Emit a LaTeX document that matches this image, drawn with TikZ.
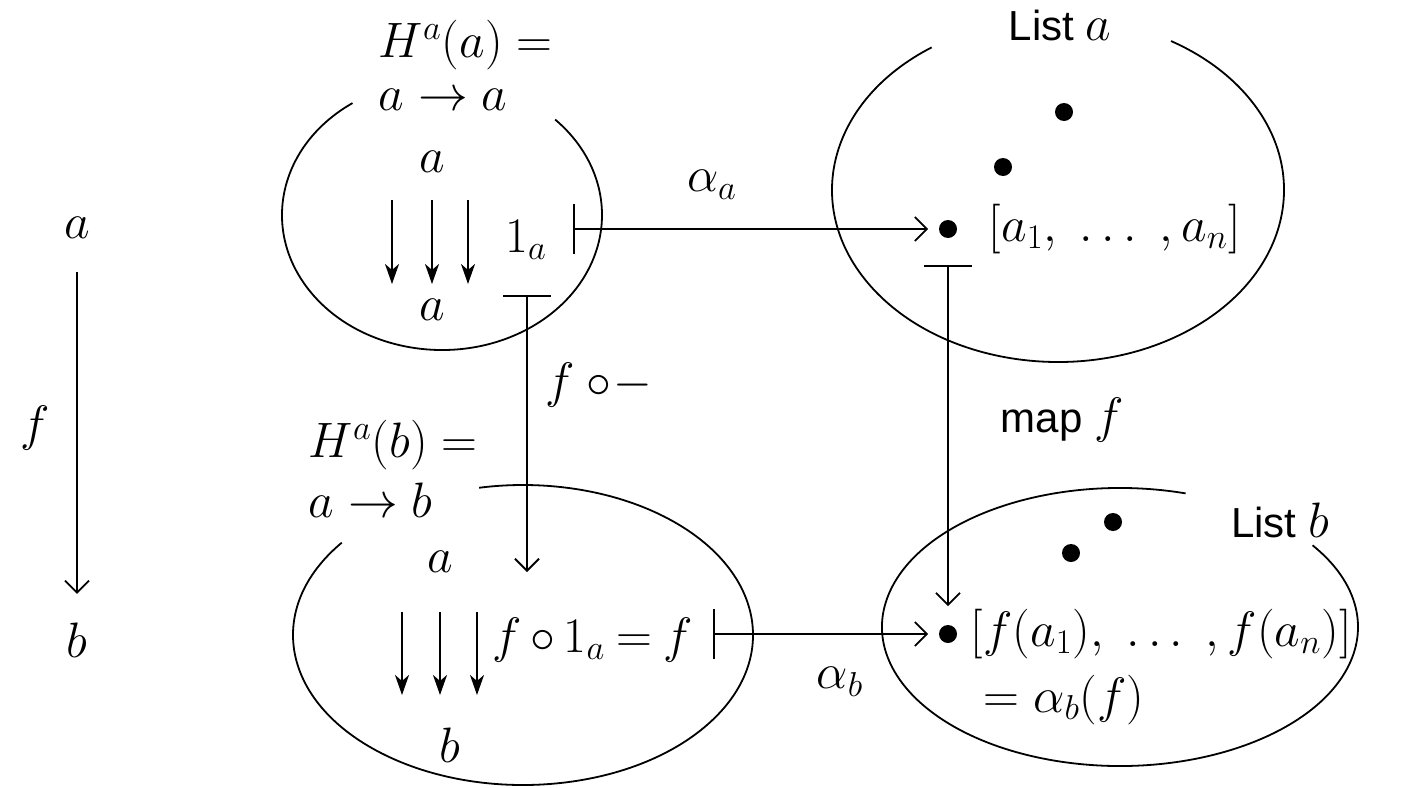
\documentclass[tikz,border=0pt]{standalone}
\usepackage{fontspec}
\newfontfamily\sansf{Liberation Sans}
\usetikzlibrary{arrows.meta}
\begin{document}
\begin{tikzpicture}[x=0.5pt,y=0.5pt,line width=0.9pt,
  lbl/.style={inner sep=0pt,font=\fontsize{23.5}{28}\selectfont},
  slbl/.style={inner sep=0pt,font=\fontsize{21}{25}\selectfont},
  pt/.style={circle,fill,inner sep=0pt,minimum size=9pt},
  arr/.style={-{Straight Barb[length=6pt,width=12pt,line width=0.9pt]}},
  sarr/.style={line width=1pt,-{Stealth[length=10pt,width=7pt,inset=3pt]}},
  mapsto/.style={{Bar[width=25pt,line width=0.9pt]}-{Straight Barb[length=6pt,width=12pt,line width=0.9pt]}},
  tee/.style={{Bar[width=24pt,line width=0.9pt]}-{Straight Barb[length=6pt,width=12pt,line width=0.9pt]}}
]
\useasboundingbox (0,0) rectangle (1402,-787);

% left arrow a -> b
\node[lbl] (la) at (77,-228) {$a$};
\node[lbl] (lb) at (77,-640) {$b$};
\node[lbl] (lf) at (35,-428) {$f$};
\draw[arr,shorten <=16pt,shorten >=14pt] (la) -- (lb);

% top-left set H^a(a)
\coordinate (e1) at (442,-215);
\draw ([shift={(124:160 and 135)}]e1) arc[start angle=124,end angle=405,x radius=160,y radius=135];
\node[lbl,anchor=west] (h1) at (378,-45) {$H^a(a) =$};
\node[lbl,anchor=west] (h1b) at (378,-100) {$a \to a$};
\node[lbl] (ia1) at (432,-162) {$a$};
\node[lbl] (ia2) at (432,-310) {$a$};
\foreach \x in {392,432,468} \draw[sarr] (\x,-200) -- (\x,-284);
\node[lbl] (one) at (526,-240) {$1_a$};
\coordinate (s1) at (573,-229);
\node[pt] (d1) at (948,-229) {};
\draw[mapsto,shorten >=5pt] (s1) -- (d1);
\node[lbl] (aa) at (712,-185) {$\alpha_a$};

% H^a(a) -> H^a(b) mapping
\coordinate (t1) at (527,-295);
\coordinate (t1e) at (527,-572);
\draw[tee] (t1) -- (t1e);
\node[lbl,anchor=west] (fc) at (545,-385) {$f \circ\!{-}$};

% top-right set List a
\coordinate (e2) at (1058,-190);
\draw ([shift={(124:226 and 172)}]e2) arc[start angle=124,end angle=420,x radius=226,y radius=172];
\node[slbl] (lista) at (1060,-25) {\sansf List \fontsize{23.5}{28}\selectfont$a$};
\node[pt] (d1b) at (1064,-112) {};
\node[pt] (d1c) at (1003,-167) {};
\node[lbl,anchor=west] (la1) at (988,-229) {$[a_1,\ \ldots\ ,a_n]$};

% List a -> List b
\coordinate (t2) at (948,-265);
\node[pt] (d3) at (948,-634) {};
\draw[tee,shorten >=9pt] (t2) -- (d3);
\node[slbl] (mapf) at (1062,-420) {\sansf map \fontsize{23.5}{28}\selectfont$f$};

% bottom-left set H^a(b)
\coordinate (e3) at (523,-635);
\draw ([shift={(142:230 and 150)}]e3) arc[start angle=142,end angle=461,x radius=230,y radius=150];
\node[lbl,anchor=west] (h2) at (308,-445) {$H^a(b) =$};
\node[lbl,anchor=west] (h2b) at (308,-500) {$a \to b$};
\node[lbl] (ib1) at (440,-562) {$a$};
\node[lbl] (ib2) at (450,-745) {$b$};
\foreach \x in {402,440,477} \draw[sarr] (\x,-612) -- (\x,-695);
\node[lbl,anchor=west] (fone) at (492,-640) {$f\mkern3mu{\circ}\mkern3mu 1_a\mkern4mu{=}\mkern4mu f$};
\coordinate (s3) at (713,-634);
\draw[mapsto,shorten >=5pt] (s3) -- (d3);
\node[lbl] (ab) at (840,-682) {$\alpha_b$};

% bottom-right set List b
\coordinate (e4) at (1120,-627);
\draw ([shift={(74:238 and 139)}]e4) arc[start angle=74,end angle=396,x radius=238,y radius=139];
\node[slbl] (listb) at (1280,-520) {\sansf List \fontsize{23.5}{28}\selectfont$b$};
\node[pt] (d3b) at (1113,-522) {};
\node[pt] (d3c) at (1071,-553) {};
\node[lbl,anchor=west] (fl) at (970,-634) {$[f(a_1),\ \ldots\ ,f(a_n)]$};
\node[lbl,anchor=west] (eqa) at (983,-700) {$= \alpha_b(f)$};
\end{tikzpicture}
\end{document}
